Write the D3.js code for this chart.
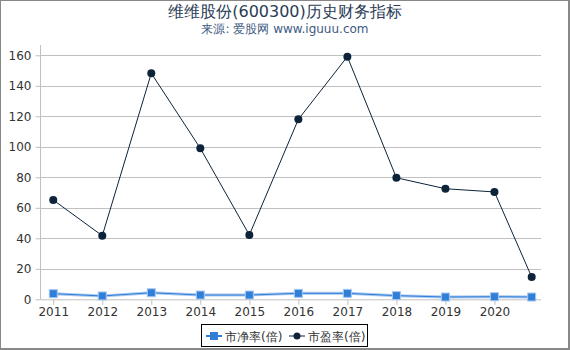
<!DOCTYPE html>
<html><head><meta charset="utf-8">
<script src="https://cdn.jsdelivr.net/npm/d3@7"></script>
<style>body{margin:0;background:#fff}svg{display:block}</style>
</head><body>
<svg id="c" width="570" height="350"></svg>
<script>
const years = [2011, 2012, 2013, 2014, 2015, 2016, 2017, 2018, 2019, 2020, 2020.76];
const pb = [3.7, 2.2, 4.3, 2.8, 2.8, 3.9, 3.9, 2.4, 1.5, 1.7, 1.5];
const pe = [65.1, 41.7, 148.2, 99.0, 42.2, 118.0, 159.1, 79.7, 72.5, 70.4, 14.6];
const xTicks = [2011, 2012, 2013, 2014, 2015, 2016, 2017, 2018, 2019, 2020];
const yTicks = [0, 20, 40, 60, 80, 100, 120, 140, 160];
const seriesNames = ["市净率(倍)", "市盈率(倍)"];
const titleText = "维维股份(600300)历史财务指标";
const subText = "来源: 爱股网 www.iguuu.com";

const svg = d3.select("#c");
const font = "'DejaVu Sans', sans-serif";
const x = d3.scaleLinear().domain([2010.75, 2020.95]).range([41, 541]);
const y = d3.scaleLinear().domain([0, 160]).range([299.3, 55.3]);

// outer border
svg.append("rect").attr("x",0.5).attr("y",0.5).attr("width",568).attr("height",348)
  .attr("fill","none").attr("stroke","#888").attr("stroke-width",1);
svg.append("line").attr("x1",569).attr("x2",569).attr("y1",0).attr("y2",350).attr("stroke","#888").attr("stroke-width",2);
svg.append("line").attr("x1",0).attr("x2",570).attr("y1",349).attr("y2",349).attr("stroke","#888").attr("stroke-width",2);

// title
svg.append("text").attr("x",285).attr("y",17).attr("text-anchor","middle")
  .attr("font-family",font).attr("font-size",16).attr("fill","#2a3c55").text(titleText);
svg.append("text").attr("x",285).attr("y",33).attr("text-anchor","middle")
  .attr("font-family",font).attr("font-size",12).attr("fill","#3e5a82").text(subText);

// gridlines
svg.append("g").selectAll("line").data(yTicks.filter(d=>d>0)).join("line")
  .attr("x1",41).attr("x2",541).attr("y1",d=>Math.round(y(d))+0.5).attr("y2",d=>Math.round(y(d))+0.5)
  .attr("stroke","#c0c0c0").attr("stroke-width",1);

// y axis
const ya = svg.append("g").attr("transform","translate(40.5,0)")
  .call(d3.axisLeft(y).tickValues(yTicks).tickSize(5).tickPadding(4).tickFormat(d3.format("d")));
ya.select(".domain").attr("stroke","#c0c0c0").attr("d","M0,45V299.8");
ya.selectAll(".tick line").attr("stroke","#c0c0c0");
ya.selectAll("text").attr("font-family",font).attr("font-size",12).attr("fill","#333");

// x axis
const xa = svg.append("g").attr("transform","translate(0,299.8)")
  .call(d3.axisBottom(x).tickValues(xTicks).tickSize(5).tickPadding(3).tickFormat(d3.format("d")));
xa.select(".domain").attr("stroke","#c0c0c0").attr("d","M41,0H541");
xa.selectAll(".tick line").attr("stroke","#c0c0c0");
xa.selectAll("text").attr("font-family",font).attr("font-size",12).attr("fill","#333");

// lines
const pbData = years.map((d,i)=>[d,pb[i]]);
const peData = years.map((d,i)=>[d,pe[i]]);
const line = d3.line().x(d=>x(d[0])).y(d=>y(d[1]));
svg.append("path").datum(pbData).attr("d",line).attr("fill","none").attr("stroke","#a8c8f0").attr("stroke-width",3);
svg.append("path").datum(pbData).attr("d",line).attr("fill","none").attr("stroke","#2f7ed8").attr("stroke-width",1);
svg.append("path").datum(peData).attr("d",line).attr("fill","none").attr("stroke","#0d233a").attr("stroke-width",1);

svg.append("g").selectAll("rect").data(pbData).join("rect")
  .attr("x",d=>x(d[0])-4).attr("y",d=>y(d[1])-4).attr("width",8).attr("height",8)
  .attr("fill","#2f7ed8").attr("stroke","#a8c8f0").attr("stroke-width",1);
svg.append("g").selectAll("circle").data(peData).join("circle")
  .attr("cx",d=>x(d[0])).attr("cy",d=>y(d[1])).attr("r",4).attr("fill","#0d233a");

// legend
const lg = svg.append("g");
lg.append("rect").attr("x",201.5).attr("y",324.5).attr("width",166).attr("height",22)
  .attr("fill","#fff").attr("stroke","#000").attr("stroke-width",1);
lg.append("line").attr("x1",206).attr("x2",222).attr("y1",336).attr("y2",336).attr("stroke","#2f7ed8").attr("stroke-width",2);
lg.append("rect").attr("x",210).attr("y",332).attr("width",8).attr("height",8).attr("fill","#2f7ed8");
lg.append("text").attr("x",225).attr("y",340.5).attr("font-family",font).attr("font-size",12).attr("fill","#333").text(seriesNames[0]);
lg.append("line").attr("x1",289).attr("x2",305).attr("y1",336).attr("y2",336).attr("stroke","#0d233a").attr("stroke-width",1);
lg.append("circle").attr("cx",297).attr("cy",336).attr("r",3.5).attr("fill","#0d233a");
lg.append("text").attr("x",308).attr("y",340.5).attr("font-family",font).attr("font-size",12).attr("fill","#333").text(seriesNames[1]);
</script>
</body></html>
